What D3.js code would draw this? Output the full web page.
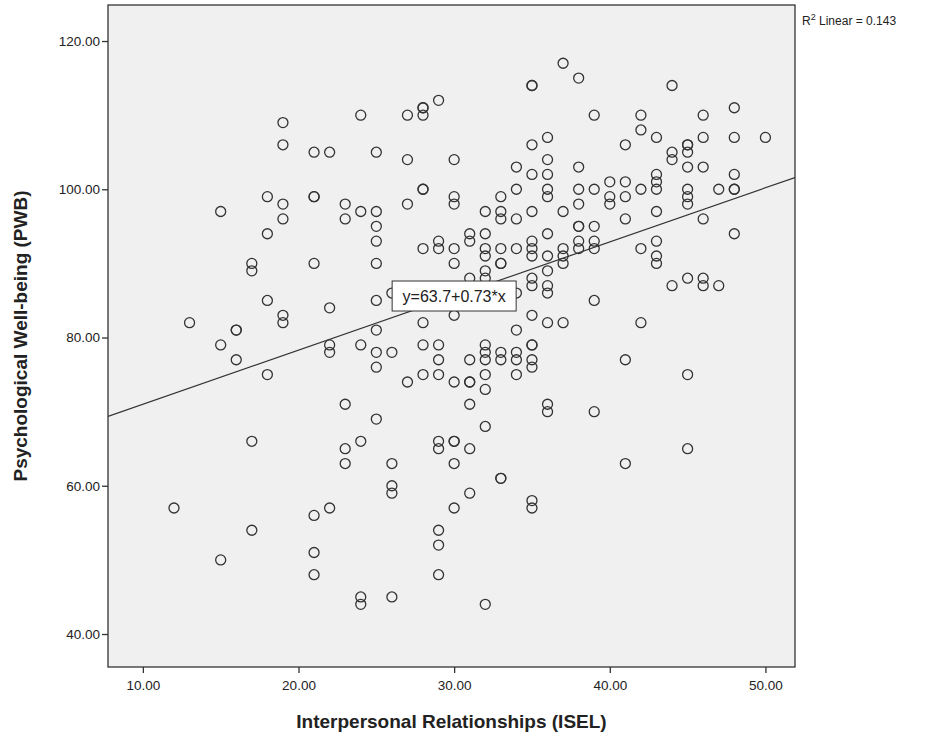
<!DOCTYPE html>
<html>
<head>
<meta charset="utf-8">
<script src="https://cdn.jsdelivr.net/npm/d3@7"></script>
<style>
  body { margin: 0; background: #fff; }
  text { font-family: "Liberation Sans", Arial, sans-serif; fill: #222; }
</style>
</head>
<body>
<svg id="chart" width="930" height="738"></svg>
<script>
// Interpersonal Relationships (ISEL) scores
var isel = [
  19,19,21,22,18,19,19,21,21,15,18,
  24,27,28,28,28,29,25,27,30,28,28,30,30,23,23,24,25,25,27,32,33,33,33,34,34,34,
  37,35,35,38,44,39,42,42,46,48,36,35,43,41,44,44,45,45,45,46,48,50,36,35,36,38,45,46,48,
  36,36,38,39,40,41,40,40,41,42,43,43,43,45,45,45,47,48,48,35,37,38,38,38,39,41,43,46,
  17,17,21,18,19,19,22,13,16,16,15,16,18,22,22,
  25,25,25,25,25,25,24,26,23,25,27,28,28,28,28,29,29,29,29,29,30,30,30,30,
  31,31,31,31,31,31,31,32,32,32,32,32,32,32,32,32,32,32,33,33,33,33,33,34,34,34,34,34,34,26,
  36,48,35,35,35,36,37,37,37,38,38,39,39,42,43,43,43,36,35,35,36,36,44,45,46,46,47,39,
  35,36,37,42,35,35,35,35,41,45,36,36,39,
  17,12,17,15,21,22,21,21,
  24,23,23,26,26,26,29,29,30,30,31,30,33,33,31,30,29,29,29,24,24,26,32,
  35,35,41,45
];
// Psychological Well-being (PWB) scores, same order
var pwb = [
  109,106,105,105,99,98,96,99,99,97,94,
  110,110,111,111,110,112,105,104,104,100,100,99,98,98,96,97,97,95,98,97,99,97,96,103,100,96,
  117,114,114,115,114,110,110,108,110,111,107,106,107,106,105,104,106,106,105,107,107,107,104,102,102,103,103,103,102,
  100,99,100,100,101,101,99,98,99,100,102,101,100,100,99,98,100,100,100,97,97,98,95,95,95,96,97,96,
  90,89,90,85,83,82,84,82,81,81,79,77,75,79,78,
  93,90,85,81,78,76,79,78,71,69,74,92,82,79,75,93,92,79,77,75,92,90,83,74,
  94,93,88,77,74,74,71,94,92,91,89,88,79,78,77,75,73,68,92,90,90,78,77,92,86,81,78,77,75,86,
  94,94,93,92,91,91,92,91,90,93,92,93,92,92,93,91,90,89,88,87,87,86,87,88,88,87,87,85,
  83,82,82,82,79,79,77,76,77,75,71,70,70,
  66,57,54,50,56,57,51,48,
  66,65,63,63,60,59,66,65,66,66,65,63,61,61,59,57,54,52,48,45,44,45,44,
  58,57,63,65
];

var xTicks = [10, 20, 30, 40, 50];
var yTicks = [40, 60, 80, 100, 120];
var intercept = 63.7, slope = 0.73, rSquared = 0.143;

var svg = d3.select("#chart");
var pLeft = 108, pRight = 795, pTop = 5, pBottom = 667;

var x = d3.scaleLinear().domain([7.76, 51.9]).range([pLeft, pRight]);
var y = d3.scaleLinear().domain([35.55, 124.86]).range([pBottom, pTop]);

// plot background
svg.append("rect")
    .attr("x", pLeft).attr("y", pTop)
    .attr("width", pRight - pLeft).attr("height", pBottom - pTop)
    .attr("fill", "#f0f0f0");

// axes
var fmt = d3.format(".2f");
var gx = svg.append("g")
    .attr("transform", "translate(0," + pBottom + ")")
    .call(d3.axisBottom(x).tickValues(xTicks).tickFormat(fmt).tickSize(6).tickSizeOuter(0));
var gy = svg.append("g")
    .attr("transform", "translate(" + pLeft + ",0)")
    .call(d3.axisLeft(y).tickValues(yTicks).tickFormat(fmt).tickSize(6).tickSizeOuter(0));
[gx, gy].forEach(function (g) {
    g.select(".domain").remove();
    g.selectAll("line").attr("stroke", "#333").attr("stroke-width", 1.3);
    g.selectAll("text")
        .attr("font-size", 13.5)
        .attr("font-family", "Liberation Sans, Arial, sans-serif")
        .attr("fill", "#222");
});
gx.selectAll("text").attr("dy", "1.05em");
gy.selectAll("text").attr("x", -8);

// fit line, clipped to plot
svg.append("clipPath").attr("id", "clip")
  .append("rect")
    .attr("x", pLeft).attr("y", pTop)
    .attr("width", pRight - pLeft).attr("height", pBottom - pTop);

var xd = x.domain();
svg.append("line")
    .attr("clip-path", "url(#clip)")
    .attr("x1", x(xd[0])).attr("y1", y(intercept + slope * xd[0]))
    .attr("x2", x(xd[1])).attr("y2", y(intercept + slope * xd[1]))
    .attr("stroke", "#333")
    .attr("stroke-width", 1.2);

// points
svg.append("g")
  .selectAll("circle")
  .data(isel.map(function (d, i) { return [d, pwb[i]]; }))
  .join("circle")
    .attr("cx", function (d) { return x(d[0]); })
    .attr("cy", function (d) { return y(d[1]); })
    .attr("r", 5)
    .attr("fill", "none")
    .attr("stroke", "#333")
    .attr("stroke-width", 1.3);

// plot frame
svg.append("rect")
    .attr("x", pLeft).attr("y", pTop)
    .attr("width", pRight - pLeft).attr("height", pBottom - pTop)
    .attr("fill", "none")
    .attr("stroke", "#333")
    .attr("stroke-width", 1.3);

// equation label on the line
var lx = 30;
var eq = svg.append("g")
    .attr("transform", "translate(" + x(lx) + "," + y(intercept + slope * lx) + ")");
eq.append("rect")
    .attr("x", -62).attr("y", -15)
    .attr("width", 124).attr("height", 30)
    .attr("fill", "#fff")
    .attr("stroke", "#333")
    .attr("stroke-width", 1);
eq.append("text")
    .attr("text-anchor", "middle")
    .attr("dy", "0.36em")
    .attr("font-size", 16)
    .text("y=" + intercept + "+" + slope + "*x");

// R squared
var r2 = svg.append("text")
    .attr("x", pRight + 7).attr("y", 25)
    .attr("font-size", 12);
r2.append("tspan").text("R");
r2.append("tspan").attr("font-size", 9).attr("dy", -5).text("2");
r2.append("tspan").attr("dy", 5).text(" Linear = " + rSquared);

// axis titles
svg.append("text")
    .attr("x", (pLeft + pRight) / 2).attr("y", 728)
    .attr("text-anchor", "middle")
    .attr("font-size", 19)
    .attr("font-weight", "bold")
    .text("Interpersonal Relationships (ISEL)");
svg.append("text")
    .attr("transform", "translate(27," + (pTop + pBottom) / 2 + ") rotate(-90)")
    .attr("text-anchor", "middle")
    .attr("font-size", 19)
    .attr("font-weight", "bold")
    .text("Psychological Well-being (PWB)");
</script>
</body>
</html>
